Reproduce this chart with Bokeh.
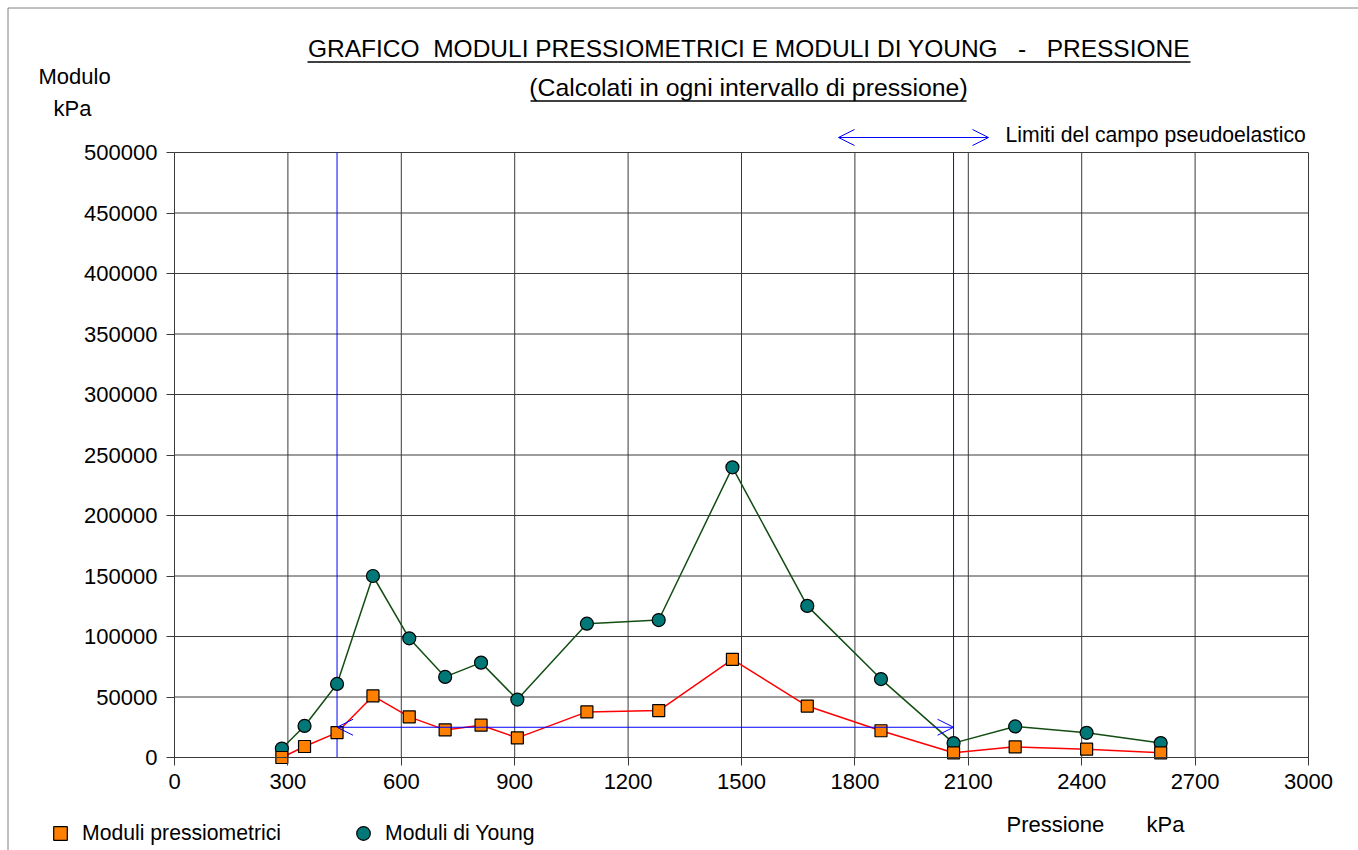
from bokeh.plotting import figure
from bokeh.models import (Label, Arrow, OpenHead, FixedTicker, BasicTickFormatter,
                          Legend, LegendItem, Range1d)
from bokeh.embed import file_html
from bokeh.resources import INLINE

# ---------------- data ----------------
pressione = [284, 344, 430, 525, 621, 716, 811, 907, 1091, 1281, 1476, 1674, 1869, 2061, 2224, 2413, 2609]
moduli_pressiometrici = [0, 9100, 20600, 50900, 33600, 22800, 26700, 16200, 37700, 38800, 81100, 42500,
                         22100, 3900, 8800, 6900, 3900]
moduli_young = [7400, 26100, 60800, 150000, 98500, 66600, 78400, 47900, 110600, 113600, 239800, 125300,
                64800, 11900, 25700, 20400, 11900]
x_ticks = [0, 300, 600, 900, 1200, 1500, 1800, 2100, 2400, 2700, 3000]
y_ticks = [0, 50000, 100000, 150000, 200000, 250000, 300000, 350000, 400000, 450000, 500000]
limiti_campo = [430, 2061]          # pseudo-elastic range limits (kPa)
livello_freccia = 25000

FONT = "Liberation Sans"
W, H = 1358, 850
NB = "\u00a0"

# plotting area of the chart on the canvas: x 174..1308 px, y 152..757 px
X0_PX, Y0_PX = 174, 757
PX_PER_X = 1134 / 3000
PX_PER_Y = 605 / 500000

p = figure(width=W, height=H,
           x_range=Range1d(-X0_PX / PX_PER_X, (W - X0_PX) / PX_PER_X),
           y_range=Range1d(-(H - Y0_PX) / PX_PER_Y, Y0_PX / PX_PER_Y),
           output_backend="svg", toolbar_location=None,
           min_border=0, min_border_left=0, min_border_right=0, min_border_top=0, min_border_bottom=0,
           outline_line_color=None, background_fill_color="white", border_fill_color="white")
p.xgrid.visible = False
p.ygrid.visible = False

# grid lines limited to the chart area
GRID = "#3a3a3a"
p.segment(x0=x_ticks, y0=[y_ticks[0]] * len(x_ticks), x1=x_ticks, y1=[y_ticks[-1]] * len(x_ticks),
          line_color=GRID, line_width=1)
p.segment(x0=[x_ticks[0]] * len(y_ticks), y0=y_ticks, x1=[x_ticks[-1]] * len(y_ticks), y1=y_ticks,
          line_color=GRID, line_width=1)

# axes fixed at the chart origin
p.xaxis.fixed_location = 0
p.yaxis.fixed_location = 0
p.xaxis.bounds = (x_ticks[0], x_ticks[-1])
p.yaxis.bounds = (y_ticks[0], y_ticks[-1])
p.xaxis.ticker = FixedTicker(ticks=x_ticks)
p.yaxis.ticker = FixedTicker(ticks=y_ticks)
p.yaxis.formatter = BasicTickFormatter(use_scientific=False)
for ax in (p.xaxis[0], p.yaxis[0]):
    ax.axis_line_color = GRID
    ax.major_tick_line_color = GRID
    ax.major_tick_out = 8
    ax.major_tick_in = 0
    ax.minor_tick_line_color = None
    ax.major_label_text_font = FONT
    ax.major_label_text_color = "black"
    ax.major_label_text_font_size = "22px"
p.yaxis.major_label_standoff = 9
p.xaxis.major_label_standoff = 8

# pseudo-elastic limits
for lim in limiti_campo:
    p.segment(x0=[lim], y0=[y_ticks[0]], x1=[lim], y1=[y_ticks[-1]], line_color="#0000FF", line_width=1)
p.add_layout(Arrow(x_start=limiti_campo[0], y_start=livello_freccia,
                   x_end=limiti_campo[1], y_end=livello_freccia,
                   line_color="#0000FF", line_width=1,
                   start=OpenHead(size=16, line_color="#0000FF", line_width=1),
                   end=OpenHead(size=16, line_color="#0000FF", line_width=1)))

# series
p.line(pressione, moduli_young, line_color="#124d12", line_width=1.5)
p.line(pressione, moduli_pressiometrici, line_color="#FF0000", line_width=1.5)
r_young = p.scatter(pressione, moduli_young, marker="circle", size=13,
                    fill_color="#007878", line_color="black", line_width=1.2)
r_press = p.scatter(pressione, moduli_pressiometrici, marker="square", size=12,
                    fill_color="#FF8000", line_color="black", line_width=1.2)


def sx(px):
    return px


def sy(py):
    return H - py


# legend at the bottom
legend = Legend(items=[LegendItem(label="Moduli pressiometrici", renderers=[r_press]),
                       LegendItem(label="Moduli di Young", renderers=[r_young])],
                location=(sx(43), sy(850)), orientation="horizontal",
                glyph_width=34, glyph_height=34, label_standoff=5, spacing=65,
                padding=0, margin=0, border_line_color=None, background_fill_alpha=0,
                label_text_font=FONT, label_text_font_size="21.2px", label_text_color="black")
p.add_layout(legend, "center")


def add_text(txt, px, py, size="22px", align="left"):
    p.add_layout(Label(x=sx(px), y=sy(py), x_units="screen", y_units="screen", text=txt,
                       text_font=FONT, text_font_size=size, text_color="black",
                       text_align=align, text_baseline="alphabetic"))


def add_line(px0, py0, px1, py1, color="black", width=1.0):
    p.add_layout(Arrow(x_start=sx(px0), y_start=sy(py0), x_end=sx(px1), y_end=sy(py1),
                       start_units="screen", end_units="screen", start=None, end=None,
                       line_color=color, line_width=width))


# titles (underlined)
add_text("GRAFICO" + NB + " MODULI PRESSIOMETRICI E MODULI DI YOUNG " + NB * 2 + "- " + NB * 2 + "PRESSIONE",
         748.5, 48, size="24.5px", align="center")
add_line(307, 61.5, 1190, 61.5, width=1.6)
add_text("(Calcolati in ogni intervallo di pressione)", 748, 87, size="24.8px", align="center")
add_line(530, 100.5, 966, 100.5, width=1.6)

# axis captions
add_text("Modulo", 38, 76)
add_text("kPa", 53, 108)
add_text("Pressione", 1006, 824)
add_text("kPa", 1146, 824)

# pseudo-elastic caption arrow above plot
add_text("Limiti del campo pseudoelastico", 1005, 134, size="21.2px")
p.add_layout(Arrow(x_start=sx(838), y_start=sy(137), x_end=sx(988), y_end=sy(137),
                   start_units="screen", end_units="screen",
                   line_color="#0000FF", line_width=1,
                   start=OpenHead(size=16, line_color="#0000FF", line_width=1),
                   end=OpenHead(size=16, line_color="#0000FF", line_width=1)))

# outer border (top and left)
add_line(7.5, 7.5, W, 7.5, color="#808080", width=1)
add_line(7.5, 7.5, 7.5, H, color="#808080", width=1)

open("out.html", "w").write(file_html(p, INLINE))
